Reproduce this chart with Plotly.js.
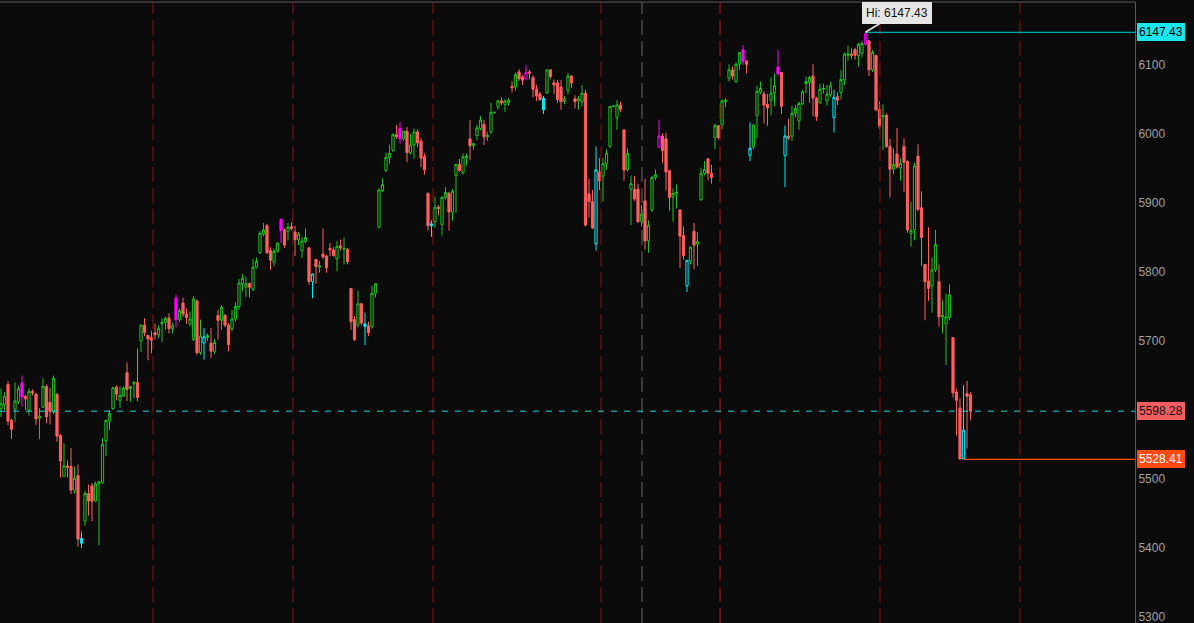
<!DOCTYPE html>
<html><head><meta charset="utf-8">
<script src="https://cdn.plot.ly/plotly-3.0.1.min.js"></script>
<style>html,body{margin:0;padding:0;background:#0b0b0b;overflow:hidden}#chart{width:1194px;height:623px}</style>
</head><body><div id="chart"></div>
<script>
const open=[5602,5608,5637,5585,5601,5612,5639,5620,5600,5627,
5623,5588,5604,5634,5611,5597,5623,5563,5504,5519,
5518,5484,5505,5414,5439,5479,5490,5468,5493,5495,
5555,5584,5602,5633,5614,5620,5654,5631,5638,5640,
5700,5723,5708,5705,5712,5709,5725,5727,5733,5718,
5762,5731,5755,5739,5725,5702,5758,5683,5697,5705,
5697,5685,5737,5730,5737,5723,5718,5732,5750,5783,
5778,5783,5775,5807,5828,5855,5867,5831,5815,5830,
5876,5861,5859,5866,5858,5847,5831,5844,5835,5786,
5818,5807,5826,5823,5834,5832,5819,5838,5833,5833,
5776,5731,5723,5754,5725,5722,5721,5769,5865,5918,
5947,5966,5976,5999,6008,5993,6004,5973,5984,6003,
5990,5967,5914,5870,5873,5894,5869,5908,5914,5887,
5940,5956,5944,5966,5993,5983,5998,6008,6014,5996,
6003,6031,6039,6048,6043,6045,6069,6068,6090,6083,
6080,6090,6082,6065,6058,6052,6060,6093,6074,6074,
6068,6047,6063,6084,6051,6048,6047,6059,5913,5902,
5841,5945,5939,5957,5982,6040,6024,6042,6006,5948,
5920,5920,5920,5873,5903,5845,5890,5937,5981,5997,
5993,5947,5909,5913,5890,5853,5780,5816,5859,5840,
5905,5943,5964,5943,5995,6012,6014,6047,6081,6093,
6076,6101,6122,6106,5969,5981,6027,6061,6058,6043,
6049,6060,6097,6089,5969,5997,5997,6030,6019,6044,
6073,6074,6084,6052,6045,6065,6048,6057,6024,6054,
6060,6079,6114,6116,6122,6114,6117,6130,6135,6093,
6114,6036,6025,6027,5982,5949,5971,5951,5982,5960,
5856,5861,5968,5893,5811,5787,5780,5803,5786,5735,
5725,5734,5705,5626,5603,5529,5624,5622];
const high=[5631,5626,5642,5587,5640,5636,5650,5621,5631,5630,
5625,5603,5646,5637,5632,5650,5624,5565,5552,5527,
5545,5518,5521,5424,5483,5492,5494,5496,5497,5559,
5586,5600,5634,5636,5634,5634,5669,5635,5642,5689,
5724,5733,5708,5715,5725,5723,5733,5735,5740,5726,
5767,5747,5763,5747,5743,5765,5760,5731,5719,5711,
5719,5703,5745,5752,5739,5726,5745,5756,5790,5797,
5793,5785,5819,5821,5859,5871,5870,5836,5834,5843,
5878,5863,5871,5872,5867,5858,5851,5863,5836,5798,
5819,5816,5863,5825,5842,5836,5845,5847,5850,5835,
5777,5736,5773,5755,5741,5728,5780,5783,5921,5936,
5973,5984,6001,6013,6017,6005,6010,6000,6008,6007,
5994,5972,5915,5875,5909,5897,5910,5923,5916,5920,
5957,5964,5972,5972,6020,5987,6013,6026,6020,6003,
6045,6032,6050,6053,6050,6052,6077,6089,6094,6085,
6100,6093,6085,6071,6061,6055,6093,6093,6079,6078,
6078,6055,6088,6085,6056,6055,6071,6064,5935,5919,
5982,5965,5965,5978,6040,6041,6049,6047,6006,5979,
5940,5939,5928,5897,5935,5875,5939,5949,6021,6001,
6002,5947,5921,5927,5890,5866,5817,5837,5871,5858,
5951,5961,5965,5955,6015,6013,6050,6052,6101,6098,
6104,6119,6129,6106,6017,6014,6070,6076,6062,6058,
6082,6088,6122,6090,6012,6022,6041,6042,6047,6064,
6083,6084,6101,6054,6073,6073,6071,6076,6064,6060,
6093,6118,6128,6124,6125,6132,6135,6147.43,6135,6122,
6115,6047,6043,6030,5993,5979,6009,5965,5994,5962,
5902,5958,5985,5917,5811,5865,5821,5861,5811,5759,
5769,5782,5705,5631,5617,5636,5642,5626];
const low=[5590,5600,5578,5558,5583,5609,5605,5600,5592,5621,
5578,5558,5603,5581,5579,5594,5554,5502,5503,5502,
5478,5479,5402,5400,5432,5447,5439,5467,5404,5493,
5533,5571,5600,5614,5603,5619,5613,5612,5617,5613,
5684,5707,5672,5682,5702,5704,5698,5716,5711,5711,
5720,5728,5735,5725,5721,5700,5680,5680,5673,5700,
5675,5681,5702,5716,5720,5685,5714,5728,5745,5772,
5764,5763,5772,5805,5826,5852,5826,5803,5808,5828,
5842,5835,5846,5860,5823,5839,5820,5842,5781,5762,
5783,5799,5819,5799,5823,5822,5801,5831,5811,5811,
5716,5700,5720,5723,5694,5707,5718,5763,5863,5916,
5945,5957,5974,5993,5986,5990,5959,5970,5964,5981,
5952,5941,5860,5851,5864,5882,5853,5905,5860,5874,
5886,5945,5941,5954,5962,5977,5991,6005,5984,5990,
6000,6030,6035,6042,6032,6041,6060,6063,6077,6071,
6078,6079,6053,6048,6048,6029,6058,6080,6058,6045,
6035,6043,6057,6067,6037,6035,6040,5866,5879,5862,
5831,5919,5902,5948,5980,6039,6006,6032,5932,5946,
5868,5903,5871,5866,5832,5828,5887,5933,5980,5958,
5918,5889,5873,5892,5806,5818,5771,5811,5804,5809,
5903,5940,5933,5928,5978,5992,6007,6039,6076,6079,
6074,6093,6100,6088,5961,5978,5994,6058,6015,6012,
6027,6040,6085,6029,5923,5991,5990,6024,6006,6042,
6059,6045,6026,6019,6044,6059,6041,6054,6002,6042,
6050,6071,6106,6109,6108,6098,6111,6128,6084,6090,
6033,6007,5977,5980,5908,5942,5950,5932,5916,5857,
5837,5846,5888,5809,5730,5758,5741,5800,5721,5711,
5665,5730,5618,5563,5528.6,5528.41,5544,5585];
const close=[5609,5620,5584,5572,5613,5631,5619,5616,5627,5625,
5587,5591,5634,5590,5598,5646,5562,5526,5519,5517,
5484,5501,5413,5407,5479,5468,5468,5493,5496,5550,
5585,5595,5632,5623,5621,5632,5630,5634,5640,5618,
5723,5712,5703,5701,5709,5718,5727,5733,5718,5722,
5731,5744,5739,5734,5732,5761,5683,5707,5706,5708,
5685,5698,5730,5749,5723,5695,5732,5750,5784,5791,
5783,5778,5807,5815,5856,5861,5828,5817,5830,5842,
5860,5839,5865,5863,5847,5855,5845,5850,5786,5797,
5808,5809,5822,5806,5832,5824,5837,5835,5834,5815,
5728,5702,5754,5726,5721,5712,5769,5783,5919,5927,
5966,5972,5999,5996,5993,6004,5973,5984,6003,5987,
5965,5948,5867,5867,5894,5892,5908,5915,5887,5917,
5956,5947,5967,5968,5983,5986,6009,6020,5996,5998,
6031,6031.5,6048,6045,6048,6049,6067,6086,6080,6078,
6089,6088,6065,6055,6050,6035,6093,6083,6071,6050,
6047,6051,6084,6074,6047,6051,6059,5868,5902,5864,
5948,5932,5957,5972,6040,6040.5,6042,6036,5948,5972,
5928,5906,5873,5884,5845,5868,5937,5941,5997,5976,
5945,5908,5914,5915,5852,5824,5817,5836,5839,5844,
5943,5949,5943,5937,6012,5995,6048,6049,6093,6084,
6101,6118,6105,6101,5979,6013,6062,6066,6042,6038,
6059,6070,6087,6040,5997,5994,6030,6037,6044,6061,
6076,6082,6052,6025,6065,6066,6058,6070,6053,6049,
6079,6116,6116,6114,6114,6130,6131,6145,6093,6118,
6035,6011,6027,5982,5949,5956,5952,5957,5959,5861,
5860,5954,5891,5850,5786,5776,5803,5840,5735,5737,
5735,5767,5625,5614,5528.8,5571,5620,5598.28];
// bar numbers (1-based) highlighted in magenta / cyan
const magentaBars=[7,51,81,115,151,189,213,223,248];
const cyanBars=[24,59,90,105,124,156,171,197,215,225,239,276];
const priceTicks=[5300,5400,5500,5600,5700,5800,5900,6000,6100];
// session separators, in bar-position units
const sessionBreaks=[43.43,83.43,123.43,171.43,251.14,291.14];
const strongBreaks=[205.43];
const weekBreaks=[183.14];

const N=open.length;
const idx=[...Array(N).keys()];
const magSet=new Set(magentaBars.map(b=>b-1));
const cyaSet=new Set(cyanBars.map(b=>b-1));
function pick(f){const r={x:[],open:[],high:[],low:[],close:[]};
  idx.forEach(i=>{if(f(i)){r.x.push(i);r.open.push(open[i]);r.high.push(high[i]);r.low.push(low[i]);r.close.push(close[i]);}});return r;}
function cs(d,col,upCol){return Object.assign({type:'candlestick',hoverinfo:'skip',whiskerwidth:0,
  increasing:{line:{color:upCol||col,width:1},fillcolor:'rgba(0,0,0,0)'},
  decreasing:{line:{color:col,width:1},fillcolor:col}},d);}
const GREEN='#1fc21f',RED='#ff5f5f',MAG='#ff00ff',CYAN='#00eefa';
const traces=[
  cs(pick(i=>!magSet.has(i)&&!cyaSet.has(i)),RED,GREEN),
  cs(pick(i=>magSet.has(i)),MAG),
  cs(pick(i=>cyaSet.has(i)),CYAN)
];
// overall high, and low of the current (last) session
const allBreaks=sessionBreaks.concat(strongBreaks,weekBreaks).filter(b=>b<N-1);
const sessStart=Math.ceil(Math.max(...allBreaks));
let hiIdx=0,loIdx=sessStart;
idx.forEach(i=>{if(high[i]>high[hiIdx])hiIdx=i;if(i>=sessStart&&low[i]<low[loIdx])loIdx=i;});
const hiVal=high[hiIdx],loVal=low[loIdx],last=close[N-1];
const tagVals=[hiVal,last,loVal];
const XR=[-0.286,324.0];
const shapes=[];
sessionBreaks.forEach(b=>shapes.push({type:'line',xref:'x',yref:'paper',x0:b,x1:b,y0:0,y1:1,line:{color:'#8a1414',width:1,dash:'15px,6px'}}));
strongBreaks.forEach(b=>shapes.push({type:'line',xref:'x',yref:'paper',x0:b,x1:b,y0:0,y1:1,line:{color:'#b81818',width:1,dash:'15px,6px'}}));
weekBreaks.forEach(b=>shapes.push({type:'line',xref:'x',yref:'paper',x0:b,x1:b,y0:0,y1:1,line:{color:'#6a6a6a',width:1,dash:'15px,6px'}}));
shapes.push({type:'line',xref:'x',yref:'y',x0:XR[0],x1:XR[1],y0:last,y1:last,line:{color:'#2ad6df',width:1,dash:'6px,7px'}});
shapes.push({type:'line',xref:'x',yref:'y',x0:hiIdx,x1:XR[1],y0:hiVal,y1:hiVal,line:{color:'#00d8e6',width:1}});
shapes.push({type:'line',xref:'x',yref:'y',x0:loIdx,x1:XR[1],y0:loVal,y1:loVal,line:{color:'#ff4a10',width:1.3}});
shapes.push({type:'line',xref:'paper',yref:'paper',x0:0,x1:1,y0:1,y1:1,line:{color:'#5a5a5a',width:1}});
const F='Liberation Sans, Arial, sans-serif';
function tag(v,bg,fg){return {xref:'paper',x:1,xanchor:'left',xshift:2,yref:'y',y:v,yanchor:'middle',text:v.toFixed(2),showarrow:false,
  bgcolor:bg,bordercolor:bg,borderpad:1,font:{family:F,size:12,color:fg}};}
const annotations=[
  tag(hiVal,'#18e6f0','#000'),
  tag(last,'#f25e5e','#111'),
  tag(loVal,'#ff4a10','#fff'),
  {xref:'x',yref:'y',x:hiIdx,y:hiVal,text:'Hi: '+hiVal.toFixed(2),showarrow:true,arrowhead:0,arrowwidth:2,arrowcolor:'#d6d6d6',
   ax:31,ay:-19,standoff:0,bgcolor:'#e6e6e6',bordercolor:'#e6e6e6',borderpad:3,font:{family:F,size:12,color:'#111'}}
];
// tick labels covered by a price tag are not shown (as in the reference)
const tickText=priceTicks.map(v=>tagVals.some(t=>Math.abs(t-v)<15)?'':String(v));
const layout={width:1194,height:623,paper_bgcolor:'#0b0b0b',plot_bgcolor:'#0b0b0b',showlegend:false,hovermode:false,
  margin:{l:0,r:59,t:2,b:0},boxgap:0.1,
  xaxis:{range:XR,showgrid:false,zeroline:false,showticklabels:false,ticks:'',rangeslider:{visible:false},showline:false,fixedrange:true},
  yaxis:{side:'right',range:[5291.3,6191.3],tickvals:priceTicks,ticktext:tickText,showgrid:false,zeroline:false,
    ticklabeloverflow:'allow',showline:true,linecolor:'#5a5a5a',linewidth:1,ticks:'',tickfont:{family:F,size:12,color:'#a0a0a0'},fixedrange:true},
  shapes:shapes,annotations:annotations};
Plotly.newPlot('chart',traces,layout,{staticPlot:true,displayModeBar:false});
</script></body></html>
